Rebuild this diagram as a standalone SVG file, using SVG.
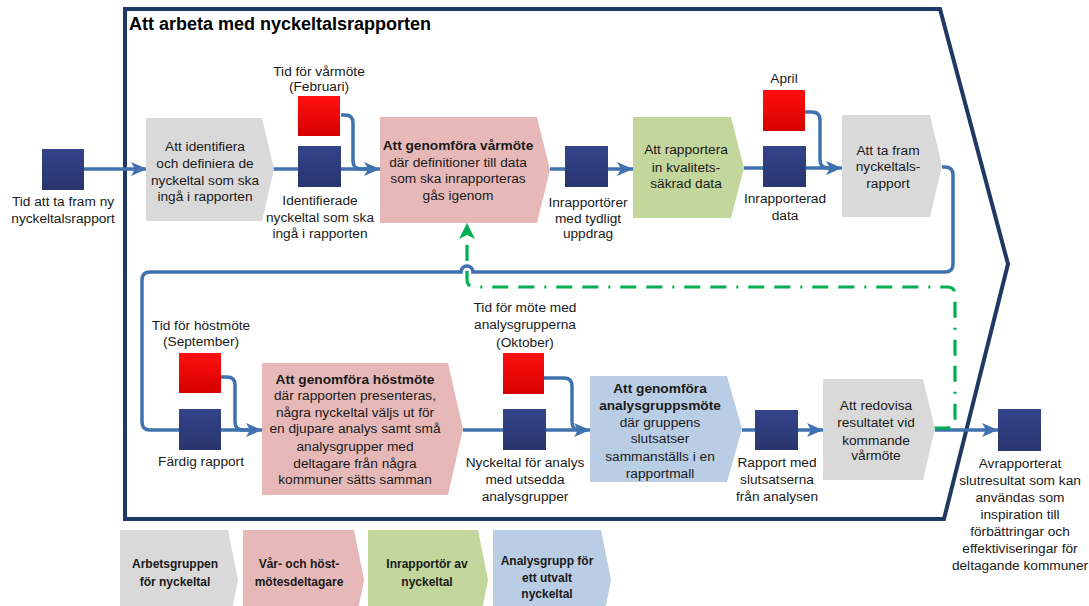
<svg xmlns="http://www.w3.org/2000/svg" width="1089" height="606" viewBox="0 0 1089 606">
<style>
text{font-family:"Liberation Sans",Arial,sans-serif;fill:#1a1a1a;}
.t{font-size:13.7px;text-anchor:middle;}
.b{font-weight:bold;}
.lg{font-size:12px;font-weight:bold;text-anchor:middle;}
.title{font-size:18px;font-weight:bold;fill:#000;}
.grey{fill:#d9d9d9;}
.pink{fill:#e6b9b8;}
.green{fill:#c3d69b;}
.blue{fill:#b9cde5;}
.navy{fill:url(#gNavy);}
.red{fill:url(#gRed);}
.con{fill:none;stroke:#3f72af;stroke-width:3.5;}
.arr{marker-end:url(#ah);}
.gr{fill:none;stroke:#00b050;stroke-width:3.2;stroke-dasharray:16 10 16 10 2 10;marker-end:url(#ahg);}
</style>
<defs>
<linearGradient id="gNavy" x1="0" y1="0" x2="0" y2="1"><stop offset="0" stop-color="#33448a"/><stop offset="1" stop-color="#28356e"/></linearGradient>
<linearGradient id="gRed" x1="0" y1="0" x2="0" y2="1"><stop offset="0" stop-color="#ff1010"/><stop offset="1" stop-color="#d60000"/></linearGradient>
<marker id="ah" markerUnits="userSpaceOnUse" markerWidth="16" markerHeight="14" viewBox="0 0 16 14" refX="16" refY="7" orient="auto"><path d="M0,0 L16,7 L0,14 L4,7 z" fill="#3f72af"/></marker>
<marker id="ahg" markerUnits="userSpaceOnUse" markerWidth="16" markerHeight="16" viewBox="0 0 16 16" refX="16" refY="8" orient="auto"><path d="M0,0 L16,8 L0,16 L4,8 z" fill="#00b050"/></marker>
</defs>
<rect width="1089" height="606" fill="#fff"/>

<g id="frame">
<polygon points="125,9 940,9 1008,264 944,519 125,519" fill="none" stroke="#1f3864" stroke-width="4" stroke-linejoin="miter"/>
<text class="title" x="129" y="30">Att arbeta med nyckeltalsrapporten</text>
</g>

<g id="connectors">
<path class="con arr" d="M84,169 L147,169"/>
<path class="con arr" d="M273,169 L380,169"/>
<path class="con" d="M341,115 L345,115 Q353,115 353,123 L353,161 Q353,169 361,169 L368,169"/>
<path class="con arr" d="M550,169 L633,169"/>
<path class="con arr" d="M744,168 L842,168"/>
<path class="con" d="M805,112 L812,112 Q820,112 820,120 L820,160 Q820,168 828,168 L832,168"/>
<path class="con arr" d="M942,167 L945,167 Q953,167 953,175 L953,264 Q953,272 945,272 L473,272 A6,6 0 0 0 461,272 L150,272 Q142,272 142,280 L142,422 Q142,430 150,430 L262,430"/>
<path class="con" d="M221,377 L227,377 Q235,377 235,385 L235,422 Q235,430 243,430 L250,430"/>
<path class="con arr" d="M463,430 L590,430"/>
<path class="con" d="M543,378 L564,378 Q572,378 572,386 L572,422 Q572,430 580,430 L582,430"/>
<path class="con arr" d="M742,430 L823,430"/>
<path class="con arr" d="M935,430 L998,430"/>
<path class="gr" d="M934,428 L947,428 Q955,428 955,420 L955,295 Q955,287 947,287 L475,287 Q467,287 467,279 L467,223"/>
</g>

<g id="n-start">
<rect class="navy" x="42" y="149" width="42" height="41"/>
<text class="t"><tspan x="63" y="206">Tid att ta fram ny</tspan><tspan x="63" y="223">nyckeltalsrapport</tspan></text>
</g>

<g id="n-identifiera">
<polygon class="grey" points="146,118 262,118 274,169 262,221 146,221"/>
<text class="t"><tspan x="205" y="151">Att identifiera</tspan><tspan x="205" y="168">och definiera de</tspan><tspan x="205" y="185">nyckeltal som ska</tspan><tspan x="205" y="201">ingå i rapporten</tspan></text>
</g>

<g id="n-tid-varmote">
<rect class="red" x="298" y="96" width="42" height="40"/>
<text class="t"><tspan x="319" y="76">Tid för vårmöte</tspan><tspan x="319" y="91">(Februari)</tspan></text>
</g>

<g id="n-identifierade">
<rect class="navy" x="298" y="146" width="43" height="41"/>
<text class="t"><tspan x="320" y="205">Identifierade</tspan><tspan x="320" y="222">nyckeltal som ska</tspan><tspan x="320" y="238">ingå i rapporten</tspan></text>
</g>

<g id="n-varmote">
<polygon class="pink" points="380,117 537,117 550,170 537,223 380,223"/>
<text class="t"><tspan class="b" x="458" y="150">Att genomföra vårmöte</tspan><tspan x="458" y="167">där definitioner till data</tspan><tspan x="458" y="183">som ska inrapporteras</tspan><tspan x="458" y="200">gås igenom</tspan></text>
</g>

<g id="n-inrapportorer">
<rect class="navy" x="565" y="146" width="43" height="41"/>
<text class="t"><tspan x="588" y="207">Inrapportörer</tspan><tspan x="588" y="223">med tydligt</tspan><tspan x="588" y="238">uppdrag</tspan></text>
</g>

<g id="n-rapportera">
<polygon class="green" points="633,117 731,117 744,168 731,218 633,218"/>
<text class="t"><tspan x="686" y="154">Att rapportera</tspan><tspan x="686" y="172">in kvalitets-</tspan><tspan x="686" y="188">säkrad data</tspan></text>
</g>

<g id="n-april">
<rect class="red" x="763" y="90" width="42" height="41"/>
<text class="t" x="784" y="83">April</text>
</g>

<g id="n-inrapporterad">
<rect class="navy" x="763" y="146" width="43" height="41"/>
<text class="t"><tspan x="785" y="203">Inrapporterad</tspan><tspan x="785" y="220">data</tspan></text>
</g>

<g id="n-tafram">
<polygon class="grey" points="842,115 930,115 942,166 930,217 842,217"/>
<text class="t"><tspan x="888" y="155">Att ta fram</tspan><tspan x="888" y="171">nyckeltals-</tspan><tspan x="888" y="188">rapport</tspan></text>
</g>

<g id="n-tid-hostmote">
<rect class="red" x="179" y="353" width="42" height="40"/>
<text class="t"><tspan x="201" y="330">Tid för höstmöte</tspan><tspan x="201" y="346">(September)</tspan></text>
</g>

<g id="n-fardig">
<rect class="navy" x="179" y="409" width="42" height="41"/>
<text class="t" x="201" y="466">Färdig rapport</text>
</g>

<g id="n-hostmote">
<polygon class="pink" points="262,363 448,363 463,429 448,495 262,495"/>
<text class="t"><tspan class="b" x="355" y="384">Att genomföra höstmöte</tspan><tspan x="355" y="400">där rapporten presenteras,</tspan><tspan x="355" y="417">några nyckeltal väljs ut för</tspan><tspan x="355" y="433">en djupare analys samt små</tspan><tspan x="355" y="451">analysgrupper med</tspan><tspan x="355" y="468">deltagare från några</tspan><tspan x="355" y="484">kommuner sätts samman</tspan></text>
</g>

<g id="n-tid-analys">
<rect class="red" x="503" y="353" width="41" height="41"/>
<text class="t"><tspan x="525" y="312">Tid för möte med</tspan><tspan x="525" y="329">analysgrupperna</tspan><tspan x="525" y="347">(Oktober)</tspan></text>
</g>

<g id="n-nyckeltal-analys">
<rect class="navy" x="503" y="409" width="43" height="41"/>
<text class="t"><tspan x="525" y="467">Nyckeltal för analys</tspan><tspan x="525" y="484">med utsedda</tspan><tspan x="525" y="501">analysgrupper</tspan></text>
</g>

<g id="n-analysmote">
<polygon class="blue" points="590,376 727,376 742,429 727,482 590,482"/>
<text class="t"><tspan class="b" x="660" y="393">Att genomföra</tspan><tspan class="b" x="660" y="410">analysgruppsmöte</tspan><tspan x="660" y="427">där gruppens</tspan><tspan x="660" y="443">slutsatser</tspan><tspan x="660" y="461">sammanställs i en</tspan><tspan x="660" y="478">rapportmall</tspan></text>
</g>

<g id="n-rapport-med">
<rect class="navy" x="755" y="410" width="43" height="40"/>
<text class="t"><tspan x="777" y="467">Rapport med</tspan><tspan x="777" y="484">slutsatserna</tspan><tspan x="777" y="501">från analysen</tspan></text>
</g>

<g id="n-redovisa">
<polygon class="grey" points="823,379 923,379 935,429 923,480 823,480"/>
<text class="t"><tspan x="876" y="410">Att redovisa</tspan><tspan x="876" y="427">resultatet vid</tspan><tspan x="876" y="445">kommande</tspan><tspan x="876" y="460">vårmöte</tspan></text>
</g>

<g id="n-slut">
<rect class="navy" x="998" y="409" width="43" height="42"/>
<text class="t"><tspan x="1020" y="468">Avrapporterat</tspan><tspan x="1020" y="485">slutresultat som kan</tspan><tspan x="1020" y="502">användas som</tspan><tspan x="1020" y="519">inspiration till</tspan><tspan x="1020" y="536">förbättringar och</tspan><tspan x="1020" y="553">effektiviseringar för</tspan><tspan x="1020" y="570">deltagande kommuner</tspan></text>
</g>

<g id="legend-arbetsgrupp">
<polygon class="grey" points="120,530 228,530 238,580 228,630 120,630"/>
<text class="lg"><tspan x="175" y="568">Arbetsgruppen</tspan><tspan x="175" y="586">för nyckeltal</tspan></text>
</g>
<g id="legend-motesdeltagare">
<polygon class="pink" points="243,530 354,530 364,580 354,630 243,630"/>
<text class="lg"><tspan x="299" y="568">Vår- och höst-</tspan><tspan x="299" y="586">mötesdeltagare</tspan></text>
</g>
<g id="legend-inrapportor">
<polygon class="green" points="368,530 478,530 488,580 478,630 368,630"/>
<text class="lg"><tspan x="427" y="568">Inrapportör av</tspan><tspan x="427" y="586">nyckeltal</tspan></text>
</g>
<g id="legend-analysgrupp">
<polygon class="blue" points="493,530 601,530 611,580 601,630 493,630"/>
<text class="lg"><tspan x="547" y="565">Analysgrupp för</tspan><tspan x="547" y="582">ett utvalt</tspan><tspan x="547" y="598">nyckeltal</tspan></text>
</g>
</svg>
